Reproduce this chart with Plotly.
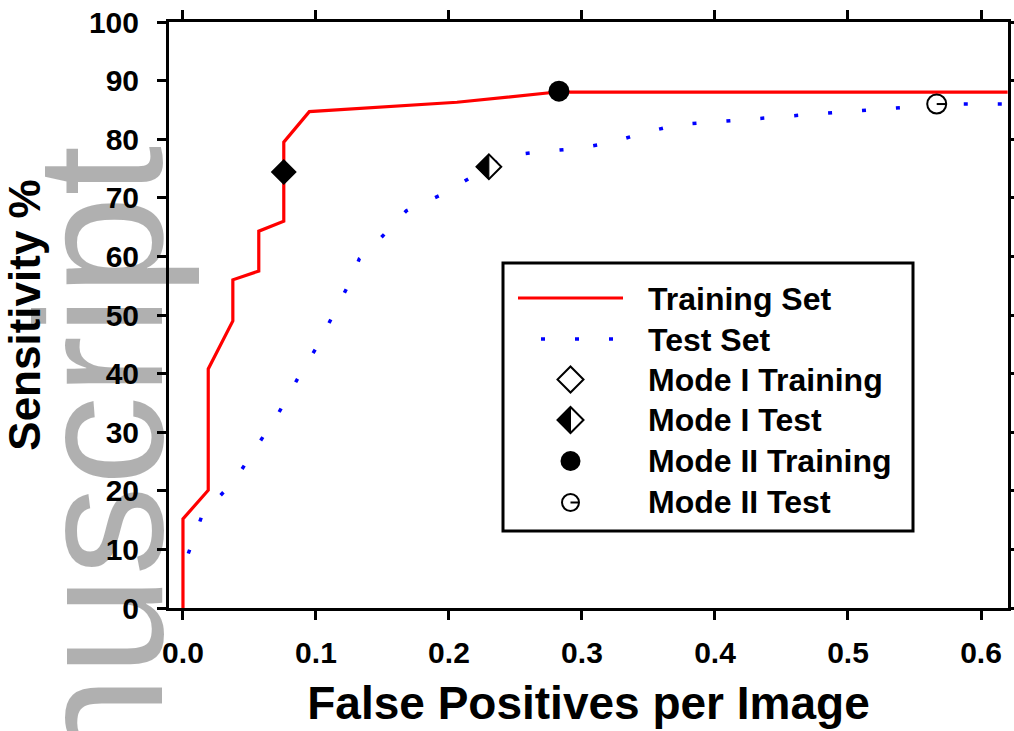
import plotly.graph_objects as go

# ---------------- data ----------------
train_fp = [0.0, 0.0, 0.019, 0.019, 0.0375, 0.0375, 0.057, 0.057, 0.0758, 0.0758, 0.095, 0.206, 0.281, 0.620]
train_sens = [0.0, 15.2, 20.1, 40.8, 49.0, 56.0, 57.5, 64.3, 66.0, 79.5, 84.7, 86.3, 88.05, 88.05]

test_fp = [0.004, 0.0145, 0.0389, 0.0717, 0.0859, 0.101, 0.127, 0.1326, 0.1444, 0.168, 0.194,
           0.2195, 0.2449, 0.2702, 0.2957, 0.3213, 0.3468, 0.3724, 0.3977, 0.4231, 0.4486,
           0.4739, 0.4992, 0.525, 0.5506, 0.5787, 0.6043, 0.620]
test_sens = [9.3, 15.9, 21.8, 33.2, 39.0, 44.7, 56.3, 59.6, 62.1, 67.8, 70.5,
             73.9, 77.25, 77.9, 78.4, 79.4, 81.1, 82.5, 82.9, 83.4, 83.8,
             84.3, 84.7, 85.1, 85.5, 86.0, 86.0, 86.0]

mode1_train_fp, mode1_train_sens = [0.0758], [74.4]
mode1_test_fp, mode1_test_sens = [0.230], [75.3]
mode2_train_fp, mode2_train_sens = [0.2827], [88.2]
mode2_test_fp, mode2_test_sens = [0.5667], [86.0]

x_ticks = [0.0, 0.1, 0.2, 0.3, 0.4, 0.5, 0.6]
y_ticks = [0, 10, 20, 30, 40, 50, 60, 70, 80, 90, 100]

legend_names = ["Training Set", "Test Set", "Mode I Training", "Mode I Test",
                "Mode II Training", "Mode II Test"]

# ---------------- layout geometry ----------------
W, H = 1014, 731
ML, MR, MT, MB = 169, 6, 22, 123
PW, PH = W - ML - MR, H - MT - MB
FONT = "Liberation Sans, Arial, Helvetica, sans-serif"


def pxx(px):
    return (px - ML) / PW


def pxy(py):
    return (H - MB - py) / PH


fig = go.Figure()

fig.add_trace(go.Scatter(x=train_fp, y=train_sens, mode="lines", name=legend_names[0],
                         line=dict(color="#ff0000", width=3.2), showlegend=False))
fig.add_trace(go.Scatter(x=test_fp, y=test_sens, mode="lines", name=legend_names[1],
                         line=dict(color="#0000ff", width=3.5, dash="4px,30px"), showlegend=False))
fig.add_trace(go.Scatter(x=mode1_train_fp, y=mode1_train_sens, mode="markers", name=legend_names[2],
                         marker=dict(symbol="diamond", size=20, color="black",
                                     line=dict(width=0)), showlegend=False))
fig.add_trace(go.Scatter(x=mode1_test_fp, y=mode1_test_sens, mode="markers", name=legend_names[3],
                         marker=dict(symbol="diamond", size=19, color="white",
                                     line=dict(width=2, color="black")), showlegend=False))
fig.add_trace(go.Scatter(x=mode2_train_fp, y=mode2_train_sens, mode="markers", name=legend_names[4],
                         marker=dict(symbol="circle", size=21, color="black",
                                     line=dict(width=0)), showlegend=False))
fig.add_trace(go.Scatter(x=mode2_test_fp, y=mode2_test_sens, mode="markers", name=legend_names[5],
                         marker=dict(symbol="circle", size=19, color="white",
                                     line=dict(width=2, color="black")), showlegend=False))

shapes = []
# half-filled diamond (Mode I Test) on the chart
half_d = "M0,-12.4 L-12.4,0 L0,12.4 Z"
shapes.append(dict(type="path", xref="x", yref="y", xsizemode="pixel", ysizemode="pixel",
                   xanchor=mode1_test_fp[0], yanchor=mode1_test_sens[0], path=half_d,
                   fillcolor="black", line=dict(color="black", width=1), layer="above"))
# radius line (Mode II Test) on the chart
shapes.append(dict(type="line", xref="x", yref="y", xsizemode="pixel", ysizemode="pixel",
                   xanchor=mode2_test_fp[0], yanchor=mode2_test_sens[0], x0=0, x1=9.5, y0=0, y1=0,
                   line=dict(color="black", width=2), layer="above"))

# ---------------- hand-drawn legend ----------------
shapes.append(dict(type="rect", xref="paper", yref="paper", x0=pxx(503), x1=pxx(913),
                   y0=pxy(531), y1=pxy(263), line=dict(color="black", width=3),
                   fillcolor="white", layer="above"))
shapes.append(dict(type="line", xref="paper", yref="paper", x0=pxx(518), x1=pxx(623),
                   y0=pxy(298), y1=pxy(298), line=dict(color="#ff0000", width=3.2), layer="above"))
shapes.append(dict(type="line", xref="paper", yref="paper", x0=pxx(541), x1=pxx(613),
                   y0=pxy(339), y1=pxy(339), line=dict(color="#0000ff", width=3.5, dash="4px,30px"),
                   layer="above"))
mx = pxx(570.5)
full_d = "M13,0 L0,13 L-13,0 L0,-13 Z"
shapes.append(dict(type="path", xref="paper", yref="paper", xsizemode="pixel", ysizemode="pixel",
                   xanchor=mx, yanchor=pxy(379.5), path=full_d, fillcolor="white",
                   line=dict(color="black", width=2), layer="above"))
shapes.append(dict(type="path", xref="paper", yref="paper", xsizemode="pixel", ysizemode="pixel",
                   xanchor=mx, yanchor=pxy(420), path=full_d, fillcolor="white",
                   line=dict(color="black", width=2), layer="above"))
shapes.append(dict(type="path", xref="paper", yref="paper", xsizemode="pixel", ysizemode="pixel",
                   xanchor=mx, yanchor=pxy(420), path="M0,-13 L-13,0 L0,13 Z", fillcolor="black",
                   line=dict(color="black", width=1), layer="above"))
shapes.append(dict(type="circle", xref="paper", yref="paper", xsizemode="pixel", ysizemode="pixel",
                   xanchor=mx, yanchor=pxy(461), x0=-10, x1=10, y0=-10, y1=10, fillcolor="black",
                   line=dict(color="black", width=0), layer="above"))
shapes.append(dict(type="circle", xref="paper", yref="paper", xsizemode="pixel", ysizemode="pixel",
                   xanchor=mx, yanchor=pxy(502.5), x0=-8.5, x1=8.5, y0=-8.5, y1=8.5, fillcolor="white",
                   line=dict(color="black", width=2), layer="above"))
shapes.append(dict(type="line", xref="paper", yref="paper", xsizemode="pixel", ysizemode="pixel",
                   xanchor=mx, yanchor=pxy(502.5), x0=0, x1=8.5, y0=0, y1=0,
                   line=dict(color="black", width=2), layer="above"))

annotations = []
for name, py in zip(legend_names, [299, 340, 380, 420, 461, 502]):
    annotations.append(dict(text=name, xref="paper", yref="paper", x=pxx(647), y=pxy(py),
                            xanchor="left", yanchor="middle", showarrow=False, borderpad=0,
                            font=dict(family=FONT, size=32, color="black", weight="bold")))

# watermark
annotations.append(dict(text="nuscript", xref="paper", yref="paper", x=pxx(100), y=pxy(461),
                        xanchor="center", yanchor="middle", showarrow=False, textangle=-90,
                        font=dict(family=FONT, size=180, color="rgba(0,0,0,0.31)")))

axis_common = dict(showline=True, linewidth=3, linecolor="black", mirror="ticks",
                   ticks="outside", ticklen=9, tickwidth=3, tickcolor="black",
                   showgrid=False, zeroline=False, automargin=False,
                   tickfont=dict(family=FONT, size=30, color="black", weight="bold"))

fig.update_layout(
    template="none",
    autosize=False,
    width=W, height=H,
    margin=dict(l=ML, r=MR, t=MT, b=MB, pad=0),
    paper_bgcolor="white", plot_bgcolor="white",
    showlegend=False,
    shapes=shapes, annotations=annotations,
    xaxis=dict(range=[-0.0105, 0.6203], tickvals=x_ticks,
               ticktext=[f"{v:.1f}" for v in x_ticks], ticklabelstandoff=7,
               title=dict(text="False Positives per Image", standoff=19,
                          font=dict(family=FONT, size=46, color="black", weight="bold")),
               **axis_common),
    yaxis=dict(range=[0, 100], tickvals=y_ticks, ticktext=[str(v) for v in y_ticks],
               ticklabelstandoff=12,
               title=dict(text="Sensitivity %", standoff=44,
                          font=dict(family=FONT, size=44, color="black", weight="bold")),
               **axis_common),
)

fig.write_html("out.html")
